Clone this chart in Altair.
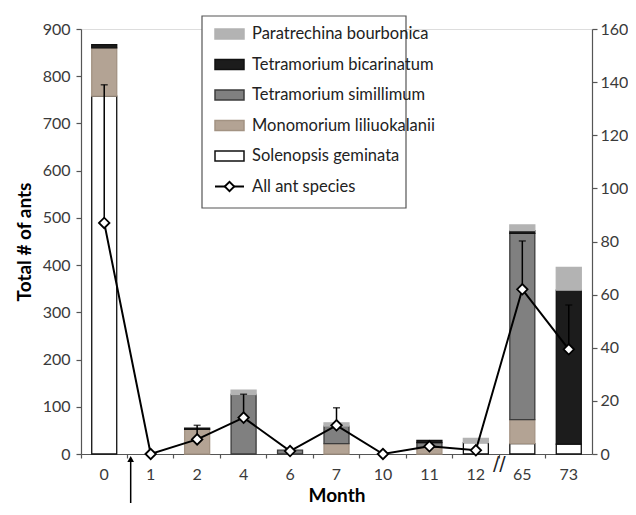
import altair as alt
import pandas as pd

months = ["0", "1", "2", "4", "6", "7", "10", "11", "12", "65", "73"]

species = ["Solenopsis geminata", "Monomorium liliuokalanii", "Tetramorium simillimum",
           "Tetramorium bicarinatum", "Paratrechina bourbonica"]
solenopsis = [758, 0, 0, 0, 0, 0, 0, 0, 24, 22, 21]
monomorium = [102, 0, 52, 0, 0, 22, 0, 14, 0, 51, 0]
simillimum = [0, 0, 0, 126, 8, 37, 0, 10, 0, 394, 0]
bicarinatum = [7, 0, 3, 0, 0, 0, 0, 5, 0, 6, 326]
paratrechina = [0, 0, 0, 9, 0, 7, 0, 0, 9, 12, 48]

all_species = [87, 0, 5.5, 13.7, 1.1, 10.8, 0, 2.9, 1.4, 62, 39.4]
all_err = [52, 0, 5.3, 8.8, 0, 6.6, 0, 0, 0, 18.2, 16.7]

fills = {"Solenopsis geminata": "#ffffff", "Monomorium liliuokalanii": "#b3a394",
         "Tetramorium simillimum": "#808080", "Tetramorium bicarinatum": "#1c1c1c",
         "Paratrechina bourbonica": "#b3b3b3"}
strokes = {"Solenopsis geminata": "#111111", "Monomorium liliuokalanii": "#a39383",
           "Tetramorium simillimum": "#3c3c3c", "Tetramorium bicarinatum": "#111111",
           "Paratrechina bourbonica": "#b3b3b3"}

series = [solenopsis, monomorium, simillimum, bicarinatum, paratrechina]
rows = []
for i, m in enumerate(months):
    for k, (sp, vals) in enumerate(zip(species, series)):
        if vals[i] > 0:
            rows.append(dict(month=m, species=sp, count=vals[i], order=k,
                             fill=fills[sp], stroke=strokes[sp]))
bars_df = pd.DataFrame(rows)

line_df = pd.DataFrame({"month": months, "all": all_species, "err": all_err})
line_df["hi"] = line_df["all"] + line_df["err"]
err_df = line_df[line_df["err"] > 0]

W, H = 511, 425
FONT = "Lato"

xenc = alt.X("month:N", sort=months,
             scale=alt.Scale(domain=months, paddingInner=0, paddingOuter=0),
             axis=alt.Axis(title="Month", titleFont=FONT, titleFontSize=19, titleFontWeight="bold",
                           titleColor="#000", titlePadding=4,
                           labelFont=FONT, labelFontSize=16, labelColor="#3a3a3a", labelAngle=0,
                           labelPadding=8, bandPosition=0, tickSize=4, tickColor="#555",
                           domainColor="#555", domainWidth=1.2, tickWidth=1.2))

bars = alt.Chart(bars_df).mark_bar(size=25, strokeWidth=1.3).encode(
    x=xenc,
    y=alt.Y("count:Q", stack="zero", scale=alt.Scale(domain=[0, 900], nice=False),
            axis=alt.Axis(values=list(range(0, 901, 100)), title="Total # of ants",
                          titleFont=FONT, titleFontSize=19, titleFontWeight="bold", titleColor="#000",
                          titlePadding=8, labelFont=FONT, labelFontSize=16, labelColor="#3a3a3a",
                          labelPadding=6, tickSize=5, tickColor="#555", domainColor="#555",
                          domainWidth=1.2, tickWidth=1.2, grid=False)),
    fill=alt.Fill("fill:N", scale=None),
    stroke=alt.Stroke("stroke:N", scale=None),
    order=alt.Order("order:Q"),
)

yR = alt.Y("all:Q", scale=alt.Scale(domain=[0, 160], nice=False),
           axis=alt.Axis(orient="right", values=list(range(0, 161, 20)), title=None,
                         labelFont=FONT, labelFontSize=16, labelColor="#3a3a3a", labelPadding=3,
                         tickSize=5, tickColor="#555", domainColor="#555", domainWidth=1.2,
                         tickWidth=1.2, grid=False))

errs = alt.Chart(err_df).mark_rule(color="black", strokeWidth=1.5).encode(
    x=xenc, y=yR, y2="hi:Q")
caps = alt.Chart(err_df).mark_tick(color="black", size=7, thickness=1.5).encode(
    x=xenc, y=alt.Y("hi:Q", scale=alt.Scale(domain=[0, 160], nice=False)))
line = alt.Chart(line_df).mark_line(color="black", strokeWidth=2).encode(x=xenc, y=yR)
pts = alt.Chart(line_df).mark_point(shape="diamond", filled=True, fill="white", stroke="black",
                                    strokeWidth=1.8, size=110, opacity=1).encode(x=xenc, y=yR)

right = alt.layer(errs, caps, line, pts)

# arrow between month 0 and 1 and axis break mark
arrow_df = pd.DataFrame({"month": ["1"]})
arrow = alt.Chart(arrow_df).mark_rule(color="black", strokeWidth=1.5, xOffset=-20).encode(
    x=alt.X("month:N", sort=months), y=alt.value(H + 4), y2=alt.value(H + 49))
arrow_head = alt.Chart(arrow_df).mark_point(shape="triangle-up", filled=True, color="black",
                                            size=45, opacity=1, xOffset=-20).encode(
    x=alt.X("month:N", sort=months), y=alt.value(H + 5))
brk_df = pd.DataFrame({"month": ["65"], "t": ["//"]})
brk = alt.Chart(brk_df).mark_text(font="DejaVu Sans", fontSize=19, color="#222",
                                  xOffset=-23).encode(
    x=alt.X("month:N", sort=months), y=alt.value(H + 10), text="t:N")

# legend
leg_labels = ["Paratrechina bourbonica", "Tetramorium bicarinatum", "Tetramorium simillimum",
              "Monomorium liliuokalanii", "Solenopsis geminata", "All ant species"]
LX0, LX1, LY0, LY1 = 121, 325, -13, 179
row_y = [5 + 30.5 * i for i in range(6)]
leg_rows = []
for i, lab in enumerate(leg_labels[:5]):
    sp = lab
    leg_rows.append(dict(x=134, x2=163, y=row_y[i] - 5, y2=row_y[i] + 5,
                         fill=fills[sp], stroke=strokes[sp]))
leg_sw = pd.DataFrame(leg_rows)
leg_txt = pd.DataFrame({"x": [171] * 6, "y": row_y, "t": leg_labels})
leg_box = pd.DataFrame({"x": [LX0], "x2": [LX1], "y": [LY0], "y2": [LY1]})
leg_line = pd.DataFrame({"x": [134], "x2": [163], "y": [row_y[5]]})
leg_pt = pd.DataFrame({"x": [148.5], "y": [row_y[5]]})

box = alt.Chart(leg_box).mark_rect(fill="white", stroke="#555", strokeWidth=1.2).encode(
    x=alt.X("x:Q", scale=None, axis=None), x2="x2:Q",
    y=alt.Y("y:Q", scale=None, axis=None), y2="y2:Q")
sw = alt.Chart(leg_sw).mark_rect(strokeWidth=1.5).encode(
    x=alt.X("x:Q", scale=None, axis=None), x2="x2:Q",
    y=alt.Y("y:Q", scale=None, axis=None), y2="y2:Q",
    fill=alt.Fill("fill:N", scale=None), stroke=alt.Stroke("stroke:N", scale=None))
txt = alt.Chart(leg_txt).mark_text(font=FONT, fontSize=16.5, color="#222", align="left",
                                   baseline="middle").encode(
    x=alt.X("x:Q", scale=None, axis=None), y=alt.Y("y:Q", scale=None, axis=None), text="t:N")
lline = alt.Chart(leg_line).mark_rule(color="black", strokeWidth=2).encode(
    x=alt.X("x:Q", scale=None, axis=None), x2="x2:Q", y=alt.Y("y:Q", scale=None, axis=None))
lpt = alt.Chart(leg_pt).mark_point(shape="diamond", filled=True, fill="white", stroke="black",
                                   strokeWidth=1.8, size=90, opacity=1).encode(
    x=alt.X("x:Q", scale=None, axis=None), y=alt.Y("y:Q", scale=None, axis=None))

left = alt.layer(bars, arrow, arrow_head, brk)
legend = alt.layer(box, sw, txt, lline, lpt)

chart = alt.layer(left, right, legend).resolve_scale(y="independent").properties(
    width=W, height=H, padding={"left": 7, "top": 7, "right": 0, "bottom": 0}
).configure_view(stroke=None).configure(background="white")

chart.save("out.html", embed_options={"renderer": "svg", "actions": False})
